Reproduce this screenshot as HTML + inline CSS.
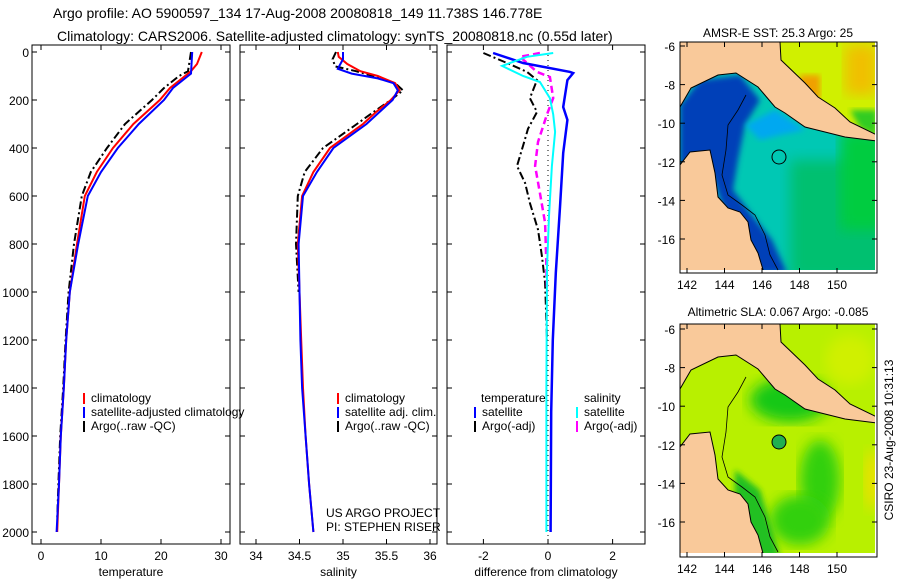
<!DOCTYPE html>
<html><head><meta charset="utf-8"><style>
body{margin:0;background:#fff;}
svg text{font-family:"Liberation Sans",sans-serif;}
</style></head><body>
<svg id="fig" width="900" height="580" viewBox="0 0 900 580" xmlns="http://www.w3.org/2000/svg">
<defs>
<filter id="blur6"><feGaussianBlur stdDeviation="7"/></filter>
<filter id="blur3"><feGaussianBlur stdDeviation="3"/></filter>
<clipPath id="clipTop"><rect x="680" y="42" width="197" height="231"/></clipPath>
<clipPath id="clipBot"><rect x="680" y="324" width="197" height="233"/></clipPath>
</defs>
<text x="53" y="18" font-size="14">Argo profile: AO 5900597_134 17-Aug-2008 20080818_149 11.738S 146.778E</text>
<text x="57" y="41" font-size="14">Climatology: CARS2006. Satellite-adjusted climatology: synTS_20080818.nc (0.55d later)</text>
<g id="panels"></g>

<!-- top map -->
<g clip-path="url(#clipTop)">
<rect x="680" y="42" width="197" height="231" fill="#00c8b4"/>
<rect x="790" y="160" width="100" height="120" fill="#00c070" filter="url(#blur6)"/>
<rect x="840" y="130" width="45" height="100" fill="#00cc40" filter="url(#blur6)"/>
<polygon points="680,105 700,80 740,75 760,100 745,125 738,160 733,190 752,215 772,240 787,273 760,273 722,205 712,175 680,178" fill="#0040b8" filter="url(#blur3)"/>
<polygon points="745,125 775,110 805,130 780,135 760,140" fill="#00a8f0" filter="url(#blur3)"/>
<polygon points="780,42 877,42 877,137 850,122 818,97 805,83 781,60" fill="#d0f000"/>
<rect x="845" y="45" width="32" height="50" fill="#f0c000" filter="url(#blur6)"/>
<rect x="800" y="75" width="20" height="25" fill="#f0a000" filter="url(#blur3)"/>
<polygon points="850,110 877,110 877,137 860,128" fill="#30cc20" filter="url(#blur3)"/>
<polygon points="680,42 780,42 781,60 805,83 818,97 835,108 850,122 877,135 877,141 845,137 825,132 805,127 785,113 775,107 758,87 736,73 718,75 691,88 680,107" fill="#f9c99a" stroke="#000" stroke-width="1"/>
<polygon points="680,165 690,152 710,150 715,173 718,197 728,208 740,212 748,222 751,240 758,253 764,273 680,273" fill="#f9c99a" stroke="#000" stroke-width="1"/>
<rect x="875" y="42" width="3" height="231" fill="#fff"/>
<rect x="680" y="270" width="197" height="3" fill="#fff"/>
<polyline points="746,95 738,110 728,125 726,150 722,175 728,195 742,205 755,215 765,235 770,255 778,270" fill="none" stroke="#000" stroke-width="0.8"/>
<circle cx="779" cy="157" r="7" fill="none" stroke="#000"/>
</g>
<rect x="680" y="42" width="197" height="231" fill="none" stroke="#000"/>
<text x="778" y="37" font-size="12" text-anchor="middle">AMSR-E SST: 25.3 Argo: 25</text>

<!-- bottom map -->
<g clip-path="url(#clipBot)">
<rect x="680" y="324" width="197" height="233" fill="#b8f000"/>
<ellipse cx="790" cy="400" rx="40" ry="22" fill="#18c818" filter="url(#blur6)"/>
<ellipse cx="820" cy="480" rx="20" ry="40" fill="#30d010" filter="url(#blur6)"/>
<ellipse cx="800" cy="520" rx="30" ry="25" fill="#30d010" filter="url(#blur6)"/>
<polygon points="735,470 760,490 780,557 760,557 735,500" fill="#20c020" filter="url(#blur3)"/>
<ellipse cx="850" cy="360" rx="25" ry="25" fill="#d0f000" filter="url(#blur6)"/>
<ellipse cx="873" cy="480" rx="8" ry="30" fill="#f0e000" filter="url(#blur6)"/>
<polygon points="680,324 780,324 781,342 805,365 818,379 835,390 850,404 877,417 877,423 845,419 825,414 805,409 785,395 775,389 758,369 736,355 718,357 691,370 680,389" fill="#f9c99a" stroke="#000" stroke-width="1"/>
<polygon points="680,447 690,434 710,432 715,455 718,479 728,490 740,494 748,504 751,522 758,535 764,557 680,557" fill="#f9c99a" stroke="#000" stroke-width="1"/>
<rect x="875" y="324" width="3" height="233" fill="#fff"/>
<rect x="680" y="553" width="197" height="4" fill="#fff"/>
<polyline points="746,377 738,392 728,407 726,432 722,457 728,477 742,487 755,497 765,517 770,537 778,552" fill="none" stroke="#000" stroke-width="0.8"/>
<circle cx="779" cy="442" r="7" fill="#20b050" stroke="#000"/>
</g>
<rect x="680" y="324" width="197" height="233" fill="none" stroke="#000"/>
<text x="778" y="316" font-size="12" text-anchor="middle">Altimetric SLA: 0.067 Argo: -0.085</text>
<text transform="translate(893,440) rotate(-90)" font-size="12" text-anchor="middle">CSIRO 23-Aug-2008 10:31:13</text>
<g id="mapaxes"></g>
</svg>
<script>
// ---- data ----
const tempClimDepth=[0,50,80,100,150,200,300,400,500,600,800,1000,1200,1400,1600,1800,2000];
const tempClim=[26.8,26,25,24,21.5,19.8,15.4,12,9.3,7.3,6,4.8,4.2,3.8,3.3,3,2.7];
const tempSatDepth=[0,90,100,150,200,300,400,500,600,800,1000,1200,1400,1600,1800,2000];
const tempSat=[25.2,25,24.5,22,20.5,16.3,12.8,10,7.8,6.2,4.8,4.2,3.8,3.3,3,2.6];
const tempArgoDepth=[0,80,100,150,200,300,400,500,600,800,1000,1200,1400,1600,1800,1950];
const tempArgo=[25,24.5,23,20.5,18.5,14,11,8.3,6.8,5.5,4.6,4.1,3.7,3.2,2.9,2.7];

const salClimDepth=[0,20,50,80,100,130,160,200,250,300,400,500,600,800,1000,1200,1400,1600,1800,2000];
const salClim=[34.94,34.95,35.05,35.2,35.4,35.6,35.65,35.55,35.38,35.23,34.85,34.66,34.53,34.48,34.5,34.52,34.54,34.57,34.61,34.66];
const salSatDepth=[0,30,50,70,90,110,130,160,200,250,300,400,500,600,800,1000,1200,1400,1600,1800,2000];
const salSat=[35.0,35.0,34.97,34.94,35.1,35.4,35.58,35.63,35.57,35.42,35.27,34.89,34.7,34.54,34.49,34.5,34.51,34.53,34.57,34.61,34.66];
const salArgoDepth=[0,30,60,80,100,130,160,200,250,300,400,500,600,800,1000];
const salArgo=[34.92,34.88,34.91,35.15,35.35,35.6,35.69,35.55,35.35,35.16,34.77,34.56,34.48,34.46,34.49];

const dTSatDepth=[4,46,83,88,117,229,283,421,646,921,1200,1500,2000];
const dTSat=[-1.7,-0.77,0.68,0.78,0.6,0.47,0.6,0.47,0.37,0.24,0.15,0.1,0.08];
const dTArgoDepth=[4,46,83,117,192,250,320,390,475,546,629,740,850,962,1200];
const dTArgo=[-2.0,-1.27,-0.65,-0.34,-0.56,-0.34,-0.62,-0.77,-0.96,-0.71,-0.56,-0.31,-0.19,-0.09,-0.03];
const dSArgoDepth=[4,20,46,83,104,192,260,375,475,587,712,850,1000];
const dSArgo=[-0.25,-0.87,-0.65,-0.34,0.06,0.16,-0.03,-0.31,-0.4,-0.25,-0.09,-0.06,-0.03];
const dSSatDepth=[4,20,58,100,125,192,260,333,475,683,900,1400,2000];
const dSSat=[0.16,-0.65,-1.42,-0.77,-0.25,0.06,0.16,0.22,0.12,0.03,-0.03,-0.05,-0.05];

const depthTicks=[0,200,400,600,800,1000,1200,1400,1600,1800,2000];
const tempTicks=[0,10,20,30];
const salTicks=[34,34.5,35,35.5,36];
const diffTicks=[-2,0,2];
const latTicks=[-6,-8,-10,-12,-14,-16];
const lonTicks=[142,144,146,148,150];

const NS="http://www.w3.org/2000/svg";
const Y0=52, PY=0.24, BOT=544, TOPB=45;
function yS(d){return Y0+d*PY;}
function mk(tag,attrs,parent){const e=document.createElementNS(NS,tag);for(const k in attrs)e.setAttribute(k,attrs[k]);parent.appendChild(e);return e;}
const G=document.getElementById('panels');

function panel(name,x0,x1,xs,xticks,xlabel,showYLabels){
  const g=mk('g',{},G);
  
  
  const box=mk('rect',{x:x0,y:TOPB,width:x1-x0,height:BOT-TOPB,fill:'none',stroke:'#000'},g);
  
  
  depthTicks.forEach(d=>{
    mk('line',{x1:x0,x2:x0+5,y1:yS(d),y2:yS(d),stroke:'#000'},g);
    mk('line',{x1:x1-5,x2:x1,y1:yS(d),y2:yS(d),stroke:'#000'},g);
    if(showYLabels){const t=mk('text',{x:x0-3,y:yS(d)+5,'font-size':12,'text-anchor':'end'},g);t.textContent=d;
      
      }
  });
  xticks.forEach(v=>{
    const x=xs(v);
    mk('line',{x1:x,x2:x,y1:BOT,y2:BOT-5,stroke:'#000'},g);
    mk('line',{x1:x,x2:x,y1:TOPB,y2:TOPB+5,stroke:'#000'},g);
    const t=mk('text',{x:x,y:BOT+16,'font-size':12,'text-anchor':'middle'},g);t.textContent=v;
    
    
  });
  const l=mk('text',{x:(x0+x1)/2,y:BOT+32,'font-size':12,'text-anchor':'middle'},g);l.textContent=xlabel;
  
  
  return g;
}
function line(g,name,depths,vals,xs,color,w,dash){
  const pts=depths.map((d,i)=>xs(vals[i]).toFixed(1)+','+yS(d).toFixed(1)).join(' ');
  const p=mk('polyline',{points:pts,fill:'none',stroke:color,'stroke-width':w},g);
  if(dash)p.setAttribute('stroke-dasharray',dash);
  
  
}
function legend(g,x,y,items){
  items.forEach((it,i)=>{
    mk('rect',{x:x,y:y+i*14-9,width:2,height:11,fill:it[1]},g);
    const t=mk('text',{x:x+8,y:y+i*14,'font-size':12},g);t.textContent=it[0];
    
    
  });
}
// temperature
const xT=v=>41+v*6;
const gT=panel('temperature-panel',32,230,xT,tempTicks,'temperature',true);
line(gT,'temp-argo-line',tempArgoDepth,tempArgo,xT,'#000',2,'8,3,2,3');
line(gT,'temp-clim-line',tempClimDepth,tempClim,xT,'#f00',2);
line(gT,'temp-sat-line',tempSatDepth,tempSat,xT,'#00f',2);
legend(gT,83,402,[['climatology','#f00'],['satellite-adjusted climatology','#00f'],['Argo(..raw -QC)','#000']]);
// salinity
const xS=v=>256+(v-34)*87;
const gS=panel('salinity-panel',240,437,xS,salTicks,'salinity',false);
line(gS,'sal-argo-line',salArgoDepth,salArgo,xS,'#000',2,'8,3,2,3');
line(gS,'sal-clim-line',salClimDepth,salClim,xS,'#f00',2);
line(gS,'sal-sat-line',salSatDepth,salSat,xS,'#00f',2);
legend(gS,337,402,[['climatology','#f00'],['satellite adj. clim.','#00f'],['Argo(..raw -QC)','#000']]);
let t=mk('text',{x:326,y:517,'font-size':12},gS);t.textContent='US ARGO PROJECT';


t=mk('text',{x:326,y:531,'font-size':12},gS);t.textContent='PI: STEPHEN RISER';


// difference
const xD=v=>548+v*32.3;
const gD=panel('difference-panel',447,645,xD,diffTicks,'difference from climatology',false);
mk('line',{x1:xD(0),x2:xD(0),y1:TOPB,y2:BOT,stroke:'#000','stroke-dasharray':'1,4'},gD);
line(gD,'dT-argo-line',dTArgoDepth,dTArgo,xD,'#000',2,'8,3,2,3');
line(gD,'dS-argo-line',dSArgoDepth,dSArgo,xD,'#f0f',2.5,'7,4');
line(gD,'dT-sat-line',dTSatDepth,dTSat,xD,'#00f',2.5);
line(gD,'dS-sat-line',dSSatDepth,dSSat,xD,'#0ff',2);
t=mk('text',{x:481,y:402,'font-size':12},gD);t.textContent='temperature';


t=mk('text',{x:584,y:402,'font-size':12},gD);t.textContent='salinity';


legend(gD,474,416,[['satellite','#00f'],['Argo(-adj)','#000']]);
legend(gD,576,416,[['satellite','#0ff'],['Argo(-adj)','#f0f']]);

// map axes
const MA=document.getElementById('mapaxes');
function mapAxes(y0,y1,latY0){
  const lx=v=>687+(v-142)*18.75;
  const ly=v=>latY0+(-6-v)*19.3;
  latTicks.forEach(v=>{
    mk('line',{x1:680,x2:685,y1:ly(v),y2:ly(v),stroke:'#000'},MA);
    mk('line',{x1:872,x2:877,y1:ly(v),y2:ly(v),stroke:'#000'},MA);
    const t=mk('text',{x:675,y:ly(v)+5,'font-size':12,'text-anchor':'end'},MA);t.textContent=v;
    
    
  });
  lonTicks.forEach(v=>{
    mk('line',{x1:lx(v),x2:lx(v),y1:y1,y2:y1-5,stroke:'#000'},MA);
    mk('line',{x1:lx(v),x2:lx(v),y1:y0,y2:y0+5,stroke:'#000'},MA);
    const t=mk('text',{x:lx(v),y:y1+16,'font-size':12,'text-anchor':'middle'},MA);t.textContent=v;
    
    
  });
}
mapAxes(42,273,46);
mapAxes(324,557,329);
</script>
</body></html>
